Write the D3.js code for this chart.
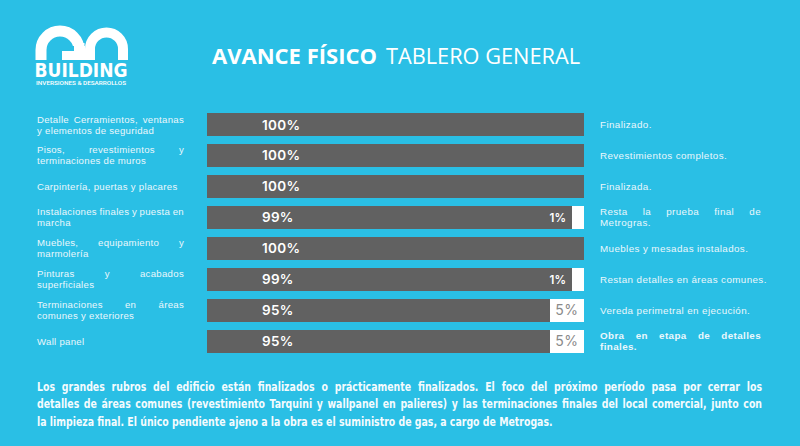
<!DOCTYPE html>
<html>
<head>
<meta charset="utf-8">
<script src="https://cdn.jsdelivr.net/npm/d3@7"></script>
<style>
  html, body { margin: 0; padding: 0; background: #2abfe5; }
  svg { display: block; }
</style>
</head>
<body>
<svg id="chart" width="800" height="446"></svg>
<script>
// ---------- DATA ----------
const categories = [
  "Detalle Cerramientos, ventanas y elementos de seguridad",
  "Pisos, revestimientos y terminaciones de muros",
  "Carpintería, puertas y placares",
  "Instalaciones finales y puesta en marcha",
  "Muebles, equipamiento y marmolería",
  "Pinturas y acabados superficiales",
  "Terminaciones en áreas comunes y exteriores",
  "Wall panel"
];
const categoryLines = [
  ["Detalle Cerramientos, ventanas", "y elementos de seguridad"],
  ["Pisos, revestimientos y", "terminaciones de muros"],
  ["Carpintería, puertas y placares"],
  ["Instalaciones finales y puesta en", "marcha"],
  ["Muebles, equipamiento y", "marmolería"],
  ["Pinturas y acabados", "superficiales"],
  ["Terminaciones en áreas", "comunes y exteriores"],
  ["Wall panel"]
];
const avance = [100, 100, 100, 99, 100, 99, 95, 95];
const notes = [
  ["Finalizado."],
  ["Revestimientos completos."],
  ["Finalizada."],
  ["Resta la prueba final de", "Metrogras."],
  ["Muebles y mesadas instalados."],
  ["Restan detalles en áreas comunes."],
  ["Vereda perimetral en ejecución."],
  ["Obra en etapa de detalles", "finales."]
];
const noteBold = [false, false, false, false, false, false, false, true];
const titleBold = "AVANCE FÍSICO";
const titleRegular = "TABLERO GENERAL";
const summaryLines = [
  "Los grandes rubros del edificio están finalizados o prácticamente finalizados. El foco del próximo período pasa por cerrar los",
  "detalles de áreas comunes (revestimiento Tarquini y wallpanel en palieres) y las terminaciones finales del local comercial, junto con",
  "la limpieza final. El único pendiente ajeno a la obra es el suministro de gas, a cargo de Metrogas."
];

// ---------- SETUP ----------
const svg = d3.select("#chart");
const W = 800, H = 446;
const BG = "#2abfe5", GREY = "#616161", LIGHT = "#eaf7fc";

svg.append("rect").attr("width", W).attr("height", H).attr("fill", BG);

const x = d3.scaleLinear().domain([0, 100]).range([207, 584]);
const y = d3.scaleBand().domain(categories).range([113, 353]).paddingInner(0.258).paddingOuter(0);
// width of the "pending" box (not linear in the original design)
const pendW = d3.scaleLinear().domain([1, 5]).range([12, 34]);

// justified text helper
function textLine(g, str, x0, x1, yy, justify, attrs) {
  if (!justify) {
    const t = g.append("text").attr("x", x0).attr("y", yy).text(str);
    Object.entries(attrs).forEach(([k, v]) => t.attr(k, v));
    return;
  }
  const words = str.split(" ");
  const nodes = words.map(w => {
    const t = g.append("text").attr("y", yy).text(w);
    Object.entries(attrs).forEach(([k, v]) => t.attr(k, v));
    return t;
  });
  const widths = nodes.map(n => n.node().getComputedTextLength());
  const total = d3.sum(widths);
  const gap = words.length > 1 ? (x1 - x0 - total) / (words.length - 1) : 0;
  let cx = x0;
  nodes.forEach((n, i) => { n.attr("x", cx); cx += widths[i] + gap; });
}

// ---------- LOGO ----------
const logo = svg.append("g");
// G
logo.append("path")
  .attr("d", "M41,60 L41,50 A19,19 0 0 1 79,50 L79,43")
  .attr("fill", "none").attr("stroke", "#fff").attr("stroke-width", 11);
logo.append("rect").attr("x", 62).attr("y", 46).attr("width", 23).attr("height", 14).attr("fill", "#fff");
logo.append("rect").attr("x", 62).attr("y", 46).attr("width", 12).attr("height", 5).attr("fill", BG);
// O
logo.append("path")
  .attr("d", "M90,60 L90,49 A16.5,16.5 0 0 1 123,49 L123,60")
  .attr("fill", "none").attr("stroke", "#fff").attr("stroke-width", 10);
logo.append("text").attr("x", 81).attr("y", 77).attr("text-anchor", "middle")
  .attr("font-family", "'DejaVu Sans', sans-serif")
  .attr("font-weight", 700).attr("font-size", 19).attr("fill", "#fff")
  .attr("textLength", 93).attr("lengthAdjust", "spacingAndGlyphs")
  .text("BUILDING");
logo.append("text").attr("x", 81).attr("y", 85).attr("text-anchor", "middle")
  .attr("font-family", "Roboto, sans-serif").attr("font-weight", 500)
  .attr("font-size", 5.2).attr("fill", "#fff")
  .attr("textLength", 90).attr("lengthAdjust", "spacingAndGlyphs")
  .text("INVERSIONES & DESARROLLOS");

// ---------- TITLE ----------
svg.append("text").attr("x", 212).attr("y", 64)
  .attr("font-family", "'Open Sans', sans-serif").attr("font-size", 21).attr("fill", "#fff")
  .attr("font-weight", 700).attr("textLength", 165).attr("lengthAdjust", "spacingAndGlyphs")
  .text(titleBold);
svg.append("text").attr("x", 386).attr("y", 64)
  .attr("font-family", "'Open Sans', sans-serif").attr("font-size", 21).attr("fill", "#fff")
  .attr("font-weight", 400).attr("textLength", 194).attr("lengthAdjust", "spacingAndGlyphs")
  .text(titleRegular);

// ---------- BARS ----------
const rows = svg.append("g").selectAll("g").data(categories).join("g")
  .attr("transform", d => `translate(0,${y(d)})`);
const bw = y.bandwidth();
const LABEL_FONT = "'Liberation Sans', Arial, sans-serif";

rows.each(function(d, i) {
  const g = d3.select(this);
  const rem = 100 - avance[i];
  const wPend = rem > 0 ? pendW(rem) : 0;
  g.append("rect").attr("x", x(0)).attr("y", 0)
    .attr("width", x(100) - x(0) - wPend).attr("height", bw).attr("fill", GREY);
  if (rem > 0) {
    g.append("rect").attr("x", x(100) - wPend).attr("y", 0)
      .attr("width", wPend).attr("height", bw).attr("fill", "#fff");
  }
  g.append("text").attr("x", x(0) + 55).attr("y", bw / 2 + 5)
    .attr("font-family", "Inter, 'Open Sans', sans-serif").attr("font-weight", 600)
    .attr("font-size", 13.5).attr("fill", "#fff").attr("letter-spacing", 0.3)
    .text(avance[i] + "%");
  if (rem > 0 && rem < 3) {
    g.append("text").attr("x", x(100) - wPend - 6).attr("y", bw / 2 + 4.5)
      .attr("text-anchor", "end")
      .attr("font-family", "Inter, 'Open Sans', sans-serif").attr("font-weight", 600)
      .attr("font-size", 11.5).attr("fill", "#fff").text(rem + "%");
  } else if (rem >= 3) {
    g.append("text").attr("x", x(100) - wPend / 2).attr("y", bw / 2 + 5)
      .attr("text-anchor", "middle")
      .attr("font-family", "Inter, 'Open Sans', sans-serif").attr("font-weight", 400)
      .attr("font-size", 14).attr("fill", "#8a8a8a").attr("letter-spacing", 0.5).text(rem + "%");
  }

  // category label (left, justified)
  const cy = bw / 2;
  const lines = categoryLines[i];
  const baseY = lines.length === 1 ? [cy + 3.5] : [cy - 2, cy + 9];
  lines.forEach((ln, k) => {
    textLine(g, ln, 37, 184, baseY[k], lines.length > 1 && k < lines.length - 1, {
      "font-family": LABEL_FONT, "font-size": 9.6, "fill": LIGHT, "letter-spacing": 0.3
    });
  });

  // note (right, justified)
  const nl = notes[i];
  const nY = nl.length === 1 ? [cy + 3.5] : [cy - 2, cy + 9];
  nl.forEach((ln, k) => {
    textLine(g, ln, 600, 761, nY[k], nl.length > 1 && k < nl.length - 1, {
      "font-family": LABEL_FONT, "font-size": 9.8, "fill": LIGHT,
      "letter-spacing": 0.4, "font-weight": noteBold[i] ? 700 : 400
    });
  });
});

// ---------- SUMMARY (condensed bold, squeezed horizontally) ----------
const sx = 0.835;
const sum = svg.append("g").attr("transform", `translate(37,0) scale(${sx},1)`);
const sumY = [391, 408.5, 426];
summaryLines.forEach((ln, k) => {
  textLine(sum, ln, 0, (762 - 37) / sx, sumY[k], k < summaryLines.length - 1, {
    "font-family": "'Liberation Sans Narrow', 'DejaVu Sans Condensed', sans-serif",
    "font-weight": 700, "font-size": 12.5, "fill": "#f4fbfe"
  });
});
</script>
</body>
</html>
